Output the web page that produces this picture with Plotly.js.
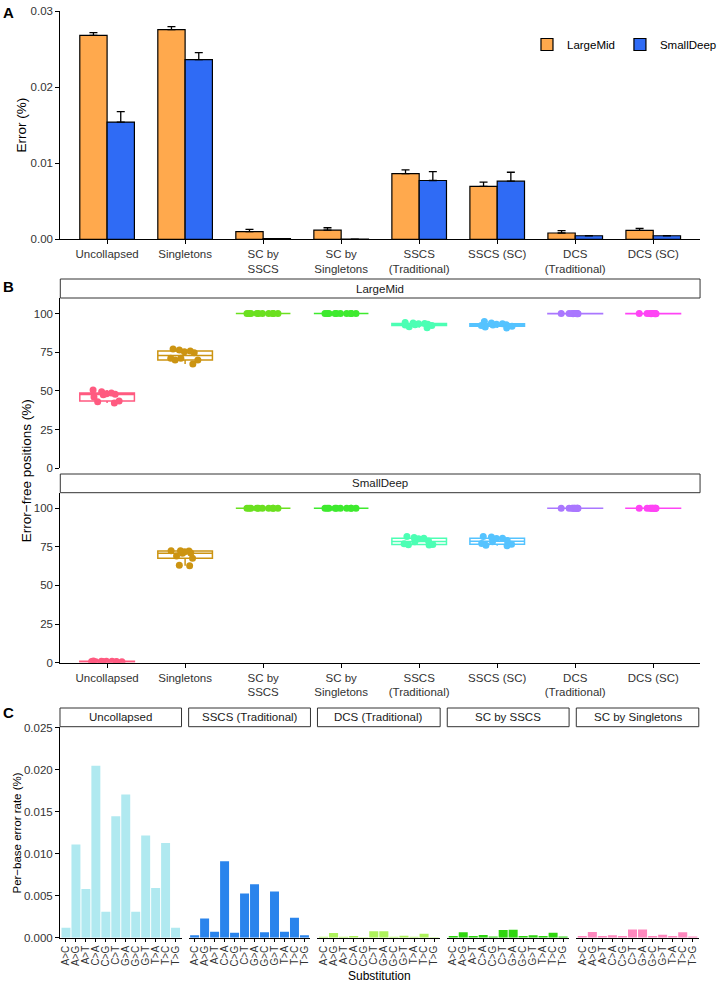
<!DOCTYPE html>
<html>
<head>
<meta charset="utf-8">
<script src="https://cdn.plot.ly/plotly-3.0.1.min.js"></script>
<style>html,body{margin:0;padding:0;background:#fff;}#chart{width:722px;height:986px;}</style>
</head>
<body>
<div id="chart"></div>
<script>
// ---------- Panel A data ----------
const categories = ['Uncollapsed','Singletons','SC by<br>SSCS','SC by<br>Singletons','SSCS<br>(Traditional)','SSCS (SC)','DCS<br>(Traditional)','DCS (SC)'];
const largeMidError = [0.02685, 0.0276, 0.0010, 0.00122, 0.00866, 0.00696, 0.00083, 0.00118];
const largeMidSE    = [0.00035, 0.0004, 0.0003, 0.0003, 0.00047, 0.00056, 0.0003, 0.00026];
const smallDeepError = [0.01543, 0.02366, 0.00008, 0.00002, 0.00774, 0.00765, 0.00047, 0.00047];
const smallDeepSE    = [0.00137, 0.00092, 0.00002, 0.00001, 0.00118, 0.00118, 0.00002, 0.00002];

// ---------- Panel B data (error-free positions %, replicates) ----------
const largeMidFree = [
  [50.5, 49.5, 48.6, 48.2, 47.8, 47.5, 46.0, 43.5, 43.0, 42.2],
  [77.1, 76.4, 75.8, 75.3, 74.7, 71.1, 71.1, 70.0, 70.0, 67.4],
  [100, 100, 100, 100, 100, 100, 100, 100, 100, 100],
  [100, 100, 100, 100, 100, 100, 100, 100, 100, 100],
  [94.2, 93.8, 93.5, 93.3, 93.0, 92.8, 92.5, 92.2, 91.5, 90.8],
  [94.8, 93.8, 93.3, 93.0, 92.7, 92.5, 92.2, 91.8, 91.2, 90.6],
  [100, 100, 99.9, 100, 99.8, 100, 100, 99.9, 100, 100],
  [100, 100, 99.9, 100, 99.8, 100, 100, 99.9, 100, 100]
];
const smallDeepFree = [
  [0.8, 1.0, 0.6, 0.9, 0.7, 1.1, 0.5, 0.8, 0.9, 0.6],
  [72.5, 72.5, 72.3, 71.8, 71.0, 70.8, 69.0, 67.6, 63.0, 62.8],
  [100, 100, 100, 100, 100, 100, 100, 100, 100, 100],
  [100, 100, 100, 100, 100, 100, 100, 100, 100, 100],
  [81.6, 81.0, 80.5, 80.2, 78.8, 78.2, 77.0, 76.5, 76.3, 76.2],
  [81.6, 81.4, 80.6, 80.3, 79.0, 78.3, 77.2, 76.6, 76.0, 75.7],
  [100, 100, 99.9, 100, 99.8, 100, 100, 99.9, 100, 100],
  [100, 100, 99.9, 100, 99.8, 100, 100, 99.9, 100, 100]
];
const facetNames = ['LargeMid', 'SmallDeep'];

// ---------- Panel C data (per-base error rate %) ----------
const substitutions = ['A>C','A>G','A>T','C>A','C>G','C>T','G>A','G>C','G>T','T>A','T>C','T>G'];
const panelCNames = ['Uncollapsed','SSCS (Traditional)','DCS (Traditional)','SC by SSCS','SC by Singletons'];
const uncollapsedRate = [0.00118, 0.0111, 0.0058, 0.02046, 0.00308, 0.01446, 0.01703, 0.00308, 0.01217, 0.0059, 0.01126, 0.00118];
const sscsRate        = [0.0003, 0.00229, 0.00071, 0.00909, 0.00059, 0.00525, 0.00636, 0.00065, 0.00549, 0.00071, 0.00237, 0.0003];
const dcsRate         = [0.00012, 0.00055, 0.00012, 0.0002, 0.00006, 0.00078, 0.00076, 0.00012, 0.00022, 0.0001, 0.00048, 0.00006];
const scSscsRate      = [0.0002, 0.00064, 0.0002, 0.00031, 0.00014, 0.00091, 0.00095, 0.0002, 0.0003, 0.0002, 0.0006, 0.00014];
const scSingRate      = [0.0002, 0.00068, 0.0002, 0.0003, 0.0002, 0.00099, 0.00099, 0.0002, 0.00035, 0.0002, 0.00064, 0.00014];

// ---------- styles ----------
const F = '"Liberation Sans", Arial, Helvetica, sans-serif';
const TICKC = '#333333';
const colA = {LargeMid: '#FFA94D', SmallDeep: '#2F6BF5'};
const colB = ['#FF5A80', '#CC9412', '#6BE01F', '#3EEA2E', '#4CFFB4', '#55C3FF', '#AA77FF', '#FF44F5'];
const colC = ['#B0E9F0', '#2A84EC', '#AEF25C', '#2FD60F', '#FF88BE'];
const W = 722, H = 986;
const px = v => v / W, py = v => 1 - v / H;

const traces = [];
// Panel A bars
traces.push({
  type: 'bar', name: 'LargeMid', x: categories, y: largeMidError, xaxis: 'x', yaxis: 'y',
  marker: {color: colA.LargeMid, line: {color: 'black', width: 1.2}},
  error_y: {type: 'data', symmetric: false, array: largeMidSE, arrayminus: largeMidSE.map(() => 0), color: 'black', thickness: 1.3, width: 4}
});
traces.push({
  type: 'bar', name: 'SmallDeep', x: categories, y: smallDeepError, xaxis: 'x', yaxis: 'y',
  marker: {color: colA.SmallDeep, line: {color: 'black', width: 1.2}},
  error_y: {type: 'data', symmetric: false, array: smallDeepSE, arrayminus: smallDeepSE.map(() => 0), color: 'black', thickness: 1.3, width: 4}
});

// Panel B boxes
[largeMidFree, smallDeepFree].forEach((facet, fi) => {
  facet.forEach((vals, ci) => {
    traces.push({
      type: 'box', x: vals.map(() => categories[ci]), y: vals,
      xaxis: fi === 0 ? 'x2' : 'x3', yaxis: fi === 0 ? 'y2' : 'y3',
      boxpoints: 'all', jitter: 0.7, pointpos: 0, width: 0.7, whiskerwidth: 0,
      line: {color: colB[ci], width: 1.5}, fillcolor: 'rgba(255,255,255,0)',
      marker: {color: colB[ci], size: 7, opacity: 1},
      showlegend: false, hoverinfo: 'y'
    });
  });
});

// Panel C bars
const rates = [uncollapsedRate, sscsRate, dcsRate, scSscsRate, scSingRate];
rates.forEach((r, i) => {
  traces.push({
    type: 'bar', x: substitutions, y: r, xaxis: 'x' + (4 + i), yaxis: 'y4',
    width: 0.9, marker: {color: colC[i]}, showlegend: false
  });
});

const axBase = () => ({
  showline: true, linecolor: 'black', linewidth: 1, ticks: 'outside', ticklen: 4, tickcolor: 'black', tickwidth: 1,
  showgrid: false, zeroline: false, tickfont: {family: F, size: 11.5, color: TICKC}, fixedrange: true
});

const layout = {
  width: W, height: H, margin: {l: 0, r: 0, t: 0, b: 0},
  paper_bgcolor: 'white', plot_bgcolor: 'white',
  font: {family: F, color: 'black'},
  barmode: 'group', bargap: 0.3, bargroupgap: 0, boxmode: 'overlay',
  showlegend: true,
  legend: {orientation: 'h', x: px(542), y: py(30), xanchor: 'left', yanchor: 'top', font: {family: F, size: 11.5, color: 'black'}, bgcolor: 'rgba(0,0,0,0)'},
  xaxis: Object.assign(axBase(), {domain: [px(62), px(720)], anchor: 'y', type: 'category', categoryorder: 'array', categoryarray: categories, range: [-0.6, 7.6]}),
  yaxis: Object.assign(axBase(), {domain: [py(239.3), py(10.7)], anchor: 'x', range: [0, 0.0301], tickvals: [0, 0.01, 0.02, 0.03], tickformat: '.2f'}),
  xaxis2: Object.assign(axBase(), {domain: [px(62), px(720)], anchor: 'y2', type: 'category', categoryorder: 'array', categoryarray: categories, range: [-0.6, 7.6], showline: false, ticks: '', showticklabels: false}),
  yaxis2: Object.assign(axBase(), {domain: [py(468.3), py(298)], anchor: 'x2', range: [0, 110], tickvals: [0, 25, 50, 75, 100]}),
  xaxis3: Object.assign(axBase(), {domain: [px(62), px(720)], anchor: 'y3', type: 'category', categoryorder: 'array', categoryarray: categories, range: [-0.6, 7.6]}),
  yaxis3: Object.assign(axBase(), {domain: [py(662.7), py(492.7)], anchor: 'x3', range: [0, 110], tickvals: [0, 25, 50, 75, 100]}),
  yaxis4: Object.assign(axBase(), {domain: [py(937.7), py(726.7)], anchor: 'x4', range: [0, 0.0251], tickvals: [0, 0.005, 0.01, 0.015, 0.02, 0.025], tickformat: '.3f'}),
  shapes: [], annotations: []
};

const cPanels = [[61.7, 186.7], [194, 319.3], [326.5, 452.7], [460, 585.3], [592.7, 718.7]];
cPanels.forEach((d, i) => {
  layout['xaxis' + (4 + i)] = Object.assign(axBase(), {
    domain: [px(d[0]), px(d[1])], anchor: 'y4', type: 'category', categoryorder: 'array', categoryarray: substitutions,
    range: [-0.6, 11.6], tickangle: -90, ticklen: 3, tickmode: 'array', tickvals: substitutions, ticktext: substitutions,
    tickfont: {family: F, size: 10, color: TICKC}
  });
  layout.shapes.push({type: 'rect', xref: 'paper', yref: 'paper', x0: px(d[0]), x1: px(d[1]), y0: py(726.7), y1: py(708), line: {color: '#333', width: 1}, fillcolor: 'white'});
  layout.annotations.push({xref: 'paper', yref: 'paper', x: px((d[0] + d[1]) / 2), y: py(717.35), text: panelCNames[i], showarrow: false, xanchor: 'center', yanchor: 'middle', font: {family: F, size: 11.5, color: '#1a1a1a'}});
});

// Panel B strips
[[279, 298], [474, 492.7]].forEach((s, i) => {
  layout.shapes.push({type: 'rect', xref: 'paper', yref: 'paper', x0: px(62), x1: px(720), y0: py(s[1]), y1: py(s[0]), line: {color: '#333', width: 1}, fillcolor: 'white'});
  layout.annotations.push({xref: 'paper', yref: 'paper', x: px(391), y: py((s[0] + s[1]) / 2), text: facetNames[i], showarrow: false, xanchor: 'center', yanchor: 'middle', font: {family: F, size: 11.5, color: '#1a1a1a'}});
});

// Titles & panel letters
const ann = (x, y, text, size, opts) => layout.annotations.push(Object.assign({xref: 'paper', yref: 'paper', x: px(x), y: py(y), text: text, showarrow: false, xanchor: 'center', yanchor: 'middle', font: {family: F, size: size, color: 'black'}}, opts || {}));
ann(22, 125, 'Error (%)', 13.5, {textangle: -90});
ann(27, 471, 'Error\u2212free positions (%)', 13.5, {textangle: -90});
ann(17, 833, 'Per\u2212base error rate (%)', 11.5, {textangle: -90});
ann(390, 976, 'Substitution', 12);
ann(1, 2, '<b>A</b>', 15, {xanchor: 'left', yanchor: 'top'});
ann(1, 276, '<b>B</b>', 15, {xanchor: 'left', yanchor: 'top'});
ann(1, 702, '<b>C</b>', 15, {xanchor: 'left', yanchor: 'top'});

Plotly.newPlot('chart', traces, layout, {staticPlot: true, displayModeBar: false});
</script>
</body>
</html>
